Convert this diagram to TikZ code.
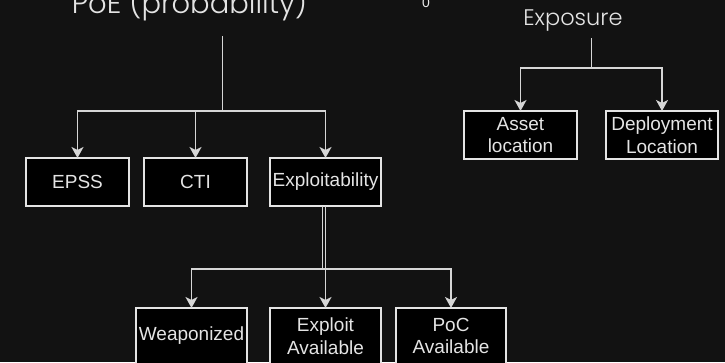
\documentclass[tikz,border=0pt]{standalone}
\usepackage{fontspec}
\setmainfont{Liberation Sans}
\newfontfamily\headfont{Poppins Light}
\usetikzlibrary{arrows.meta}
\definecolor{bg}{HTML}{121212}
\definecolor{ink}{HTML}{E4E4E4}
\definecolor{wire}{HTML}{D6D6D6}
\begin{document}
\begin{tikzpicture}[x=1pt,y=-1pt,
  box/.style={draw=ink,line width=1.3pt,fill=black,text=ink,
    inner sep=0pt,outer sep=0pt,align=center,
    font=\fontsize{19}{22.5}\selectfont},
  heading/.style={text=ink,inner sep=0pt},
  link/.style={draw=wire,line width=1.4pt},
  tip/.style={link,-{Stealth[length=11pt,width=12pt,inset=3pt]}}]
  % canvas
  \fill[bg] (0,0) rectangle (725,362);
  \useasboundingbox (0,0) rectangle (725,362);

  % headings
  \node[heading,anchor=base,font=\headfont\fontsize{29}{33}\selectfont] (poe) at (189.5,13.5) {PoE (probability)};
  \node[heading,anchor=base,font=\headfont\fontsize{22.5}{26}\selectfont] (expo) at (573,25.7) {Exposure};
  \node[text=ink!85,inner sep=0pt,anchor=base,font=\fontsize{14}{16}\selectfont] (stray) at (426,7) {0};

  % likelihood branch
  \node[box,minimum width=103pt,minimum height=48pt] (epss) at (77.5,182) {EPSS};
  \node[box,minimum width=103pt,minimum height=48pt] (cti) at (195.5,182) {CTI};
  \node[box,minimum width=111pt,minimum height=48pt] (expl) at (325.5,182) {Exploitability};

  \node[box,minimum width=111pt,minimum height=56pt] (weap) at (191.5,336) {Weaponized};
  \node[box,minimum width=111pt,minimum height=56pt] (exav) at (325.5,336) {Exploit\\Available};
  \node[box,minimum width=110pt,minimum height=56pt] (poc) at (451,336) {PoC\\Available};

  % exposure branch
  \node[box,minimum width=113pt,minimum height=48pt] (asset) at (520.5,135) {Asset\\location};
  \node[box,minimum width=112pt,minimum height=48pt] (deploy) at (662,135) {Deployment\\Location};

  % connectors from PoE
  \coordinate (poeTop) at (222.7,36);
  \coordinate (poeJoin) at (222.7,111);
  \draw[link] (poeTop) -- (poeJoin);
  \draw[tip] (poeJoin) -| (epss.north);
  \draw[tip] (poeJoin) -| (cti.north);
  \draw[tip] (poeJoin) -| (expl.north);

  % connectors from Exposure
  \coordinate (expoTop) at (591.7,38);
  \coordinate (expoJoin) at (591.7,68);
  \draw[link] (expoTop) -- (expoJoin);
  \draw[tip] (expoJoin) -| (asset.north);
  \draw[tip] (expoJoin) -| (deploy.north);

  % connectors from Exploitability
  \coordinate (explJoin) at (322.7,269);
  \draw[link] ([xshift=-2.8pt]expl.south) -- (explJoin);
  \draw[tip] (explJoin) -| (weap.north);
  \draw[tip] (explJoin) -| (poc.north);
  \draw[tip] (expl.south) -- (exav.north);
\end{tikzpicture}
\end{document}
